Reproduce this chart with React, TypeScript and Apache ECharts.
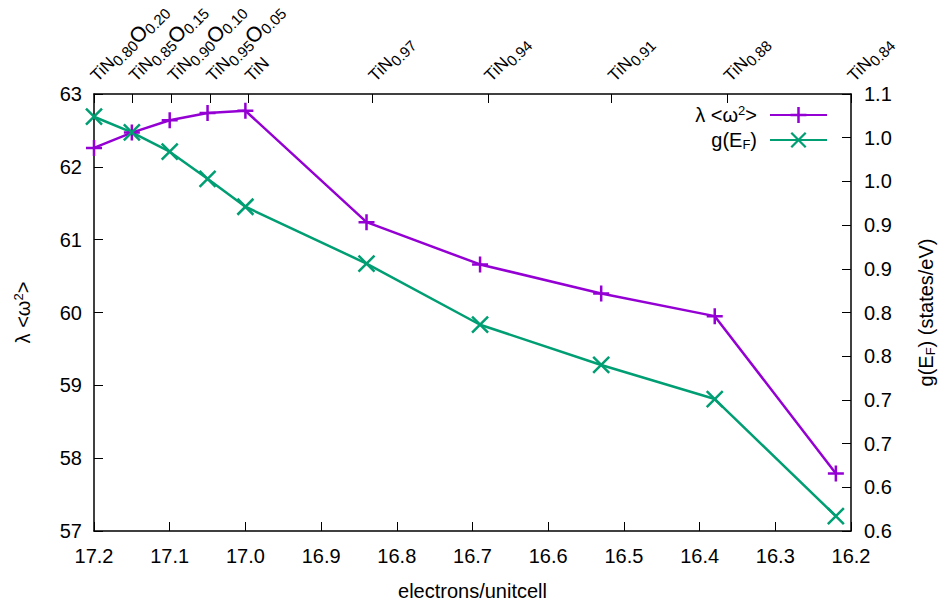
import React, { useEffect, useRef } from 'react';
import * as echarts from 'echarts';

// ---- data ----
const electrons = [17.2, 17.15, 17.1, 17.05, 17.0, 16.84, 16.69, 16.53, 16.38, 16.22];
const nitrogenSub = ['0.80', '0.85', '0.90', '0.95', '', '0.97', '0.94', '0.91', '0.88', '0.84'];
const oxygenSub = ['0.20', '0.15', '0.10', '0.05', '', '', '', '', '', ''];
const lambdaOmega2 = [62.26, 62.47, 62.64, 62.74, 62.77, 61.24, 60.66, 60.26, 59.95, 57.79];
const gEF = [1.074, 1.056, 1.034, 1.003, 0.971, 0.906, 0.836, 0.79, 0.751, 0.617];

const S1 = 'λ <ω²>';
const S2 = 'g(E_F)';

const FONT = '"Liberation Sans", Arial, sans-serif';
const PURPLE = '#9400d3';
const GREEN = '#009e73';
const BLACK = '#000000';

const plusPath =
  'path://M-1.25,-8L1.25,-8L1.25,-1.25L8,-1.25L8,1.25L1.25,1.25L1.25,8L-1.25,8L-1.25,1.25L-8,1.25L-8,-1.25L-1.25,-1.25Z';
const crossPath =
  'path://M-8.884,-7.116L7.116,8.884L8.884,7.116L-7.116,-8.884ZM-7.116,8.884L8.884,-7.116L7.116,-8.884L-8.884,7.116Z';

const topLabel = (i: number) => {
  if (!nitrogenSub[i]) return '{t|TiN}';
  let s = `{t|TiN}{s|${nitrogenSub[i]}}`;
  if (oxygenSub[i]) s += `{o|O}{s|${oxygenSub[i]}}`;
  return s;
};

const halfDown = (v: number) => (Math.floor(v * 10 + 0.5 - 1e-6) / 10).toFixed(1);

export default function App() {
  const ref = useRef<HTMLDivElement>(null);
  useEffect(() => {
    if (!ref.current) return;
    const chart = echarts.init(ref.current, undefined, { renderer: 'svg' });
    const axisLine = { show: true, lineStyle: { color: BLACK, width: 1.5 } };
    const tick = { show: true, inside: true, length: 9, lineStyle: { color: BLACK, width: 1 } };
    const lbl = { color: BLACK, fontSize: 20, fontFamily: FONT };
    const GRID_TOP = 94;
    chart.setOption({
      animation: false,
      backgroundColor: '#ffffff',
      textStyle: { fontFamily: FONT },
      grid: { left: 94, right: 88, top: GRID_TOP, bottom: 75, containLabel: false, outerBoundsMode: 'none' },
      legend: {
        show: true,
        data: [S1, S2],
        orient: 'vertical',
        align: 'right',
        right: 111,
        top: 104,
        padding: 0,
        itemWidth: 57,
        itemHeight: 20,
        itemGap: 5,
        selectedMode: false,
        formatter: (name: string) =>
          name === S1 ? '{a|λ <ω}{sup|2}{a|>}' : '{a|g(E}{sub|F}{a|)}',
        textStyle: {
          color: BLACK,
          fontSize: 20,
          fontFamily: FONT,
          padding: [0, 8, 0, 0],
          rich: {
            a: { fontSize: 20, lineHeight: 22, color: BLACK, fontFamily: FONT },
            sup: { fontSize: 13, lineHeight: 12, verticalAlign: 'top', color: BLACK, fontFamily: FONT },
            sub: { fontSize: 13, lineHeight: 12, verticalAlign: 'bottom', color: BLACK, fontFamily: FONT },
          },
        },
      },
      xAxis: [
        {
          type: 'value',
          position: 'bottom',
          min: 16.2,
          max: 17.2,
          interval: 0.1,
          inverse: true,
          axisLine,
          axisTick: tick,
          splitLine: { show: false },
          axisLabel: { ...lbl, margin: 15, formatter: (v: number) => v.toFixed(1) },
          name: 'electrons/unitcell',
          nameLocation: 'middle',
          nameGap: 50,
          nameMoveOverlap: false,
          nameTextStyle: { ...lbl },
        },
        {
          type: 'value',
          position: 'top',
          min: electrons[electrons.length - 1],
          max: electrons[0],
          inverse: true,
          axisLine,
          axisTick: { ...tick, customValues: electrons },
          splitLine: { show: false },
          axisLabel: { show: false },
        },
      ],
      yAxis: [
        {
          type: 'value',
          position: 'left',
          min: 57,
          max: 63,
          interval: 1,
          axisLine,
          axisTick: tick,
          splitLine: { show: false },
          axisLabel: { ...lbl, margin: 12 },
          name: '{a|λ <ω}{sup|2}{a|>}',
          nameLocation: 'middle',
          nameGap: 60,
          nameMoveOverlap: false,
          nameTextStyle: {
            ...lbl,
            rich: {
              a: { fontSize: 20, lineHeight: 22, color: BLACK, fontFamily: FONT },
              sup: { fontSize: 13, lineHeight: 12, verticalAlign: 'top', color: BLACK, fontFamily: FONT },
            },
          },
        },
        {
          type: 'value',
          position: 'right',
          min: 0.6,
          max: 1.1,
          interval: 0.05,
          axisLine,
          axisTick: tick,
          splitLine: { show: false },
          axisLabel: { ...lbl, margin: 13, formatter: halfDown },
          name: '{a|g(E}{sub|F}{a|) (states/eV)}',
          nameLocation: 'middle',
          nameGap: 64,
          nameMoveOverlap: false,
          nameTextStyle: {
            ...lbl,
            rich: {
              a: { fontSize: 20, lineHeight: 22, color: BLACK, fontFamily: FONT },
              sub: { fontSize: 13, lineHeight: 12, verticalAlign: 'bottom', color: BLACK, fontFamily: FONT },
            },
          },
        },
      ],
      series: [
        {
          type: 'line',
          name: S1,
          xAxisIndex: 0,
          yAxisIndex: 0,
          data: electrons.map((x, i) => [x, lambdaOmega2[i]]),
          symbol: plusPath,
          symbolSize: 16,
          lineStyle: { color: PURPLE, width: 2.5 },
          itemStyle: { color: PURPLE, borderWidth: 0 },
          emphasis: { disabled: true },
        },
        {
          type: 'line',
          name: S2,
          xAxisIndex: 0,
          yAxisIndex: 1,
          data: electrons.map((x, i) => [x, gEF[i]]),
          symbol: crossPath,
          symbolSize: 17.77,
          lineStyle: { color: GREEN, width: 2.5 },
          itemStyle: { color: GREEN, borderWidth: 0 },
          emphasis: { disabled: true },
        },
      ],
    });

    // top (compound) labels, placed with the top axis' own scale
    const rich = {
      t: { fontSize: 17, lineHeight: 24, color: BLACK, fontFamily: FONT },
      o: { fontSize: 21, lineHeight: 24, color: BLACK, fontFamily: FONT },
      s: { fontSize: 15, lineHeight: 15, verticalAlign: 'bottom', color: BLACK, fontFamily: FONT },
    };
    const graphics = electrons.map((v, i) => {
      const px = chart.convertToPixel({ xAxisIndex: 1 }, v) as number;
      return {
        type: 'text',
        x: px + 8,
        y: GRID_TOP - 7,
        rotation: Math.PI / 4,
        silent: true,
        style: {
          text: topLabel(i),
          x: 0,
          y: 0,
          align: 'left',
          verticalAlign: 'bottom',
          fill: BLACK,
          fontFamily: FONT,
          rich,
        },
      };
    });
    chart.setOption({ graphic: graphics });

    return () => chart.dispose();
  }, []);
  return (
    <div
      ref={ref}
      style={{ position: 'fixed', left: 0, top: 0, width: 939, height: 606, background: '#fff' }}
    />
  );
}
